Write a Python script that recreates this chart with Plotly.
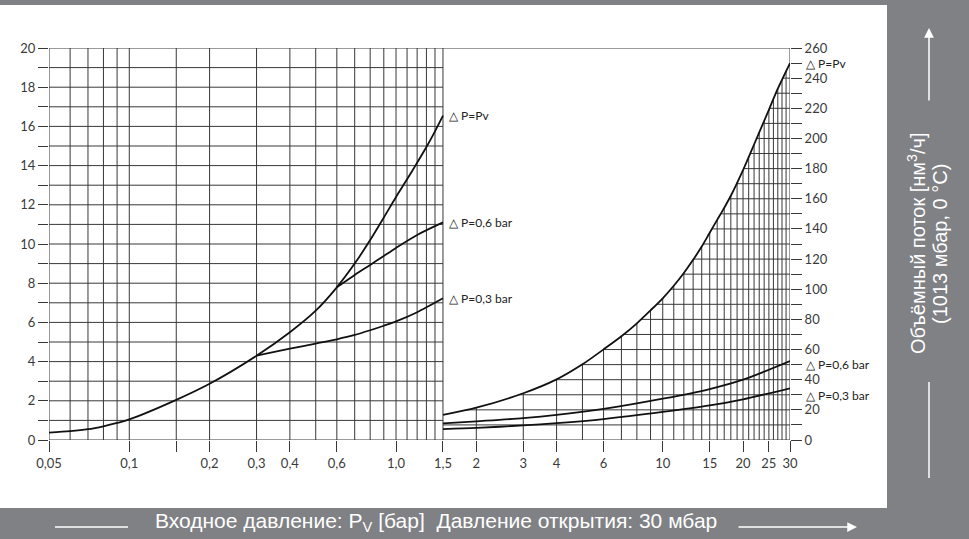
import numpy as np
import plotly.graph_objects as go

# ---------------- data ----------------
# left panel (left axis, 0..20)
x_left_pv = [0.05, 0.06, 0.07, 0.08, 0.09, 0.1, 0.15, 0.2, 0.3, 0.4, 0.5, 0.6, 0.7, 0.8, 0.9, 1.0, 1.1, 1.2, 1.3, 1.4, 1.5]
y_left_pv = [0.38, 0.45, 0.55, 0.7, 0.87, 1.05, 2.05, 2.87, 4.3, 5.5, 6.6, 7.79, 9.0, 10.2, 11.35, 12.4, 13.3, 14.15, 14.95, 15.75, 16.55]
x_left_06 = [0.6, 0.7, 0.8, 0.9, 1.0, 1.2, 1.5]
y_left_06 = [7.79, 8.42, 8.93, 9.39, 9.8, 10.46, 11.1]
x_left_03 = [0.3, 0.4, 0.5, 0.6, 0.7, 0.8, 0.9, 1.0, 1.2, 1.5]
y_left_03 = [4.3, 4.66, 4.92, 5.14, 5.36, 5.6, 5.83, 6.05, 6.52, 7.23]
# right panel (right axis, 0..260)
x_right_pv = [1.5, 2, 3, 4, 5, 6, 7, 8, 9, 10, 11, 12, 13, 14, 15, 16, 17, 18, 20, 22, 25, 27, 30]
y_right_pv = [16.6, 21.4, 31, 40.2, 50.2, 60.1, 68.8, 77.4, 86.0, 94, 102.3, 110.8, 119.5, 128.3, 137.5, 146, 154, 162, 179, 196, 219, 233, 250]
x_right_06 = [1.5, 2, 3, 4, 6, 10, 15, 20, 30]
y_right_06 = [11.0, 12.4, 14.5, 16.6, 20.6, 27.4, 33.8, 40.0, 52.4]
x_right_03 = [1.5, 2, 3, 4, 6, 10, 15, 20, 30]
y_right_03 = [7.2, 8.0, 9.7, 11.2, 13.9, 18.6, 22.9, 27.0, 34.3]

# grid / ticks
grid_x_left = [0.05, 0.06, 0.07, 0.08, 0.09, 0.1, 0.15, 0.2, 0.3, 0.4, 0.5, 0.6, 0.7, 0.8, 0.9, 1.0, 1.1, 1.2, 1.3, 1.4, 1.5]
grid_y_left = list(range(0, 21))
grid_x_right = list(range(2, 31))
grid_y_right = list(range(0, 251, 10))
x_tick_vals = [0.05, 0.1, 0.15, 0.2, 0.3, 0.4, 0.6, 1.0, 1.5, 2, 3, 4, 6, 10, 15, 20, 25, 30]
x_tick_text = ["0,05", "0,1", "", "0,2", "0,3", "0,4", "0,6", "1,0", "1,5", "2", "3", "4", "6", "10", "15", "20", "25", "30"]
y_left_ticks = list(range(0, 21))
y_right_ticks = list(range(0, 261, 10))

labels_left = ["△ P=Pv", "△ P=0,6 bar", "△ P=0,3 bar"]
labels_right = ["△ P=Pv", "△ P=0,6 bar", "△ P=0,3 bar"]
right_label_shift = [0, -3, -7]
x_title = "Входное давление: P<sub>V</sub> [бар]  Давление открытия: 30 мбар"
y_title_1 = "Объёмный поток [нм<sup>3</sup>/ч]"
y_title_2 = "(1013 мбар, 0 °C)"

# ---------------- layout geometry ----------------
W, H = 969, 539
ML, MR, MT, MB = 49, 179, 48, 99
PW, PH = W - ML - MR, H - MT - MB
GREY = "rgb(128,129,133)"
GRID = "#383838"
INK = "#111111"
TICKFONT = dict(family="Lato, 'Open Sans', sans-serif", size=13, color="#3a3a3a")
LBLFONT = dict(family="Lato, sans-serif", size=12, color="#222")
XTITLEFONT = dict(family="Liberation Sans, Arial, sans-serif", size=21, color="white")
YTITLEFONT = dict(family="Liberation Sans, Arial, sans-serif", size=20, color="white")


def px(xp):
    return (xp - ML) / PW


def py(yp):
    return (H - MB - yp) / PH


fig = go.Figure()

# left grid
gx, gy = [], []
for v in grid_x_left:
    gx += [v, v, None]
    gy += [0, 20, None]
for v in grid_y_left:
    gx += [grid_x_left[0], grid_x_left[-1], None]
    gy += [v, v, None]
fig.add_trace(go.Scatter(x=gx, y=gy, mode="lines", line=dict(color=GRID, width=1),
                         hoverinfo="skip", showlegend=False))

# right grid (only below the Pv curve)
lx = np.log10(x_right_pv)
rx, ry = [], []
for v in grid_x_right:
    top = 260 if v == grid_x_right[-1] else float(np.interp(np.log10(v), lx, y_right_pv))
    rx += [v, v, None]
    ry += [0, top, None]
for v in grid_y_right:
    xs = 10 ** float(np.interp(v, y_right_pv, lx))
    rx += [xs, grid_x_right[-1], None]
    ry += [v, v, None]
rx += [x_right_pv[0], x_right_pv[-1], None]
ry += [260, 260, None]
fig.add_trace(go.Scatter(x=rx, y=ry, yaxis="y2", mode="lines", line=dict(color=GRID, width=1),
                         hoverinfo="skip", showlegend=False))

# curves
for xs, ys, ax in [(x_left_pv, y_left_pv, "y"), (x_left_06, y_left_06, "y"), (x_left_03, y_left_03, "y"),
                   (x_right_pv, y_right_pv, "y2"), (x_right_06, y_right_06, "y2"), (x_right_03, y_right_03, "y2")]:
    fig.add_trace(go.Scatter(x=xs, y=ys, yaxis=ax, mode="lines",
                             line=dict(color=INK, width=1.8, shape="spline", smoothing=0.8),
                             hoverinfo="skip", showlegend=False))

annos = []
for txt, ys in zip(labels_left, [y_left_pv, y_left_06, y_left_03]):
    annos.append(dict(x=np.log10(1.5), y=ys[-1], xref="x", yref="y", text=txt, showarrow=False,
                      xanchor="left", yanchor="middle", xshift=4, font=LBLFONT))
for txt, ys, sh in zip(labels_right, [y_right_pv, y_right_06, y_right_03], right_label_shift):
    annos.append(dict(x=np.log10(30), y=ys[-1], xref="x", yref="y2", text=txt, showarrow=False,
                      xanchor="left", yanchor="middle", xshift=14, yshift=sh, font=LBLFONT))

# titles in grey bands
annos.append(dict(x=px(436), y=py(522), xref="paper", yref="paper", text=x_title, showarrow=False,
                  xanchor="center", yanchor="middle", font=XTITLEFONT))
annos.append(dict(x=px(916), y=py(244), xref="paper", yref="paper", text=y_title_1, showarrow=False, textangle=-90,
                  xanchor="center", yanchor="middle", font=YTITLEFONT))
annos.append(dict(x=px(940), y=py(244), xref="paper", yref="paper", text=y_title_2, showarrow=False, textangle=-90,
                  xanchor="center", yanchor="middle", font=YTITLEFONT))
# arrows
annos.append(dict(x=px(929), y=py(28), xref="paper", yref="paper", ax=0, ay=74, text="", showarrow=True,
                  arrowhead=2, arrowsize=1.3, arrowwidth=1.5, arrowcolor="white"))
annos.append(dict(x=px(857), y=py(527), xref="paper", yref="paper", ax=-120, ay=0, text="", showarrow=True,
                  arrowhead=2, arrowsize=1.3, arrowwidth=1.5, arrowcolor="white"))

shapes = [
    dict(type="rect", xref="paper", yref="paper", x0=px(0), x1=px(887), y0=py(508), y1=py(5),
         fillcolor="white", line=dict(width=0), layer="below"),
    dict(type="line", xref="paper", yref="paper", x0=px(929), x1=px(929), y0=py(382), y1=py(478),
         line=dict(color="white", width=1.5)),
    dict(type="line", xref="paper", yref="paper", x0=px(55), x1=px(128), y0=py(527), y1=py(527),
         line=dict(color="white", width=1.5)),
]

fig.update_layout(
    width=W, height=H, autosize=False,
    margin=dict(l=ML, r=MR, t=MT, b=MB, pad=0),
    paper_bgcolor=GREY, plot_bgcolor="white",
    showlegend=False,
    xaxis=dict(type="log", range=[np.log10(0.05), np.log10(30)], showgrid=False, zeroline=False, showline=False,
               tickmode="array", tickvals=x_tick_vals, ticktext=x_tick_text, ticks="outside", ticklen=11,
               tickcolor=GRID, tickwidth=1, tickfont=TICKFONT, fixedrange=True),
    yaxis=dict(range=[0, 20], showgrid=False, zeroline=False, showline=False,
               tickmode="array", tickvals=y_left_ticks,
               ticktext=[str(v) if v % 2 == 0 else "" for v in y_left_ticks],
               ticks="outside", ticklen=10, tickcolor=GRID, tickwidth=1, tickfont=TICKFONT, fixedrange=True),
    yaxis2=dict(range=[0, 260], overlaying="y", side="right", showgrid=False, zeroline=False, showline=False,
                tickmode="array", tickvals=y_right_ticks,
                ticktext=[str(v) if v % 20 == 0 else "" for v in y_right_ticks],
                ticks="outside", ticklen=11, tickcolor=GRID, tickwidth=1, tickfont=TICKFONT, fixedrange=True),
    annotations=annos,
    shapes=shapes,
)

fig.write_html("out.html", config={"displayModeBar": False},
               post_script="document.body.style.margin='0';document.body.style.overflow='hidden';")
